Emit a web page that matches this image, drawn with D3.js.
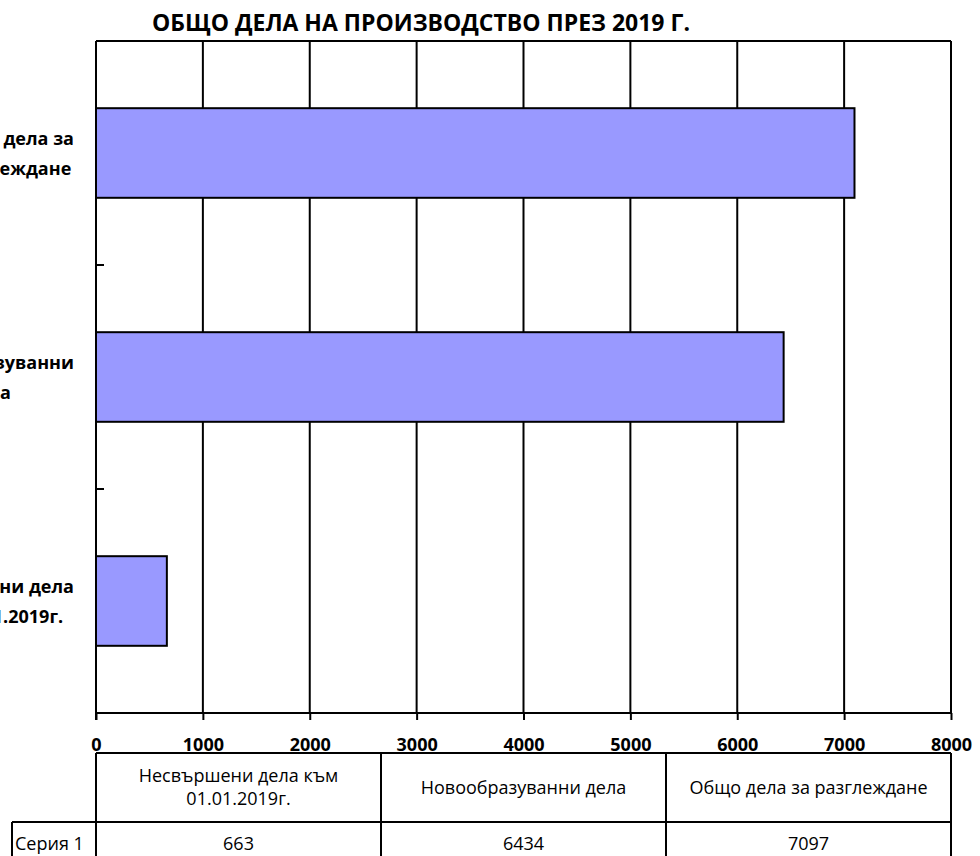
<!DOCTYPE html>
<html>
<head>
<meta charset="utf-8">
<script src="https://cdn.jsdelivr.net/npm/d3@7"></script>
<style>
  html, body { margin: 0; padding: 0; background: #fff; }
  svg { display: block; }
</style>
</head>
<body>
<script>
// ---- data ----
const categories = ["Несвършени дела към 01.01.2019г.", "Новообразуванни дела", "Общо дела за разглеждане"];
const categoryLines = [["Несвършени дела", "към 01.01.2019г."], ["Новообразуванни", "дела"], ["Общо дела за", "разглеждане"]];
const headerLines = [["Несвършени дела към", "01.01.2019г."], ["Новообразуванни дела"], ["Общо дела за разглеждане"]];
const seriesName = "Серия 1";
const values = [663, 6434, 7097];
const xTicks = [0, 1000, 2000, 3000, 4000, 5000, 6000, 7000, 8000];
const chartTitle = "ОБЩО ДЕЛА НА ПРОИЗВОДСТВО ПРЕЗ 2019 Г.";

// ---- layout ----
const W = 980, H = 856;
const pL = 96, pR = 951, pT = 41, pB = 713;
const font = "'Open Sans', 'Noto Sans', sans-serif";

const svg = d3.select("body").append("svg").attr("width", W).attr("height", H);

const x = d3.scaleLinear().domain([0, 8000]).range([pL, pR]);
const y = d3.scaleBand().domain(categories.slice().reverse()).range([pT, pB])
  .paddingInner(0.6).paddingOuter(0.3);

// title
svg.append("text").attr("x", 421).attr("y", 31)
  .attr("text-anchor", "middle")
  .style("font-family", font).style("font-weight", "bold").style("font-size", "23px")
  .text(chartTitle);

// vertical gridlines
svg.append("g").selectAll("line").data(xTicks.slice(1)).join("line")
  .attr("x1", d => x(d)).attr("x2", d => x(d))
  .attr("y1", pT).attr("y2", pB)
  .attr("stroke", "#000").attr("stroke-width", 2);

// top border
svg.append("line").attr("x1", pL).attr("x2", pR).attr("y1", pT).attr("y2", pT)
  .attr("stroke", "#000").attr("stroke-width", 2);

// bars
svg.append("g").selectAll("rect").data(categories).join("rect")
  .attr("x", x(0))
  .attr("y", d => y(d))
  .attr("width", (d, i) => x(values[i]) - x(0))
  .attr("height", y.bandwidth())
  .attr("fill", "#9999FF")
  .attr("stroke", "#000").attr("stroke-width", 2);

// x axis
const xAxis = d3.axisBottom(x).tickValues(xTicks).tickSize(7).tickFormat(d3.format("d"));
const gx = svg.append("g").attr("transform", `translate(0,${pB})`).call(xAxis);
gx.select(".domain").attr("stroke", "#000").attr("stroke-width", 2)
  .attr("d", `M${pL},0H${pR}`);
gx.selectAll(".tick line").attr("stroke", "#000").attr("stroke-width", 2);
gx.selectAll(".tick text").attr("y", 38).attr("dy", 0)
  .style("font-family", font).style("font-weight", "bold").style("font-size", "18px")
  .attr("fill", "#000");

// y axis spine + inner ticks at band boundaries
svg.append("line").attr("x1", pL).attr("x2", pL).attr("y1", pT).attr("y2", pB + 7)
  .attr("stroke", "#000").attr("stroke-width", 2);
const gap = (y.step() - y.bandwidth()) / 2;
svg.append("g").selectAll("line").data(categories).join("line")
  .attr("x1", pL).attr("x2", pL + 8)
  .attr("y1", d => y(d) - gap).attr("y2", d => y(d) - gap)
  .attr("stroke", "#000").attr("stroke-width", 2);

// category labels
const labG = svg.append("g")
  .style("font-family", font).style("font-weight", "bold").style("font-size", "18px");
categories.forEach((c, i) => {
  const cy = y(c) + y.bandwidth() / 2;
  const g = labG.append("g");
  const lines = categoryLines[i];
  const ts = g.selectAll("text").data(lines).join("text")
    .attr("text-anchor", "middle")
    .attr("y", (d, j) => cy + (j - (lines.length - 1) / 2) * 30 + 6.5)
    .text(d => d);
  let maxW = 0;
  ts.each(function () { maxW = Math.max(maxW, this.getComputedTextLength()); });
  ts.attr("x", 74 - maxW / 2);
});

// data table
const tTop = 753, tMid = 822, tBot = 880, serLeft = 12;
const colW = (pR - pL) / 3;
const tg = svg.append("g").attr("stroke", "#000").attr("stroke-width", 2);
tg.append("line").attr("x1", pL).attr("x2", pR).attr("y1", tTop).attr("y2", tTop);
tg.append("line").attr("x1", serLeft).attr("x2", pR).attr("y1", tMid).attr("y2", tMid);
tg.append("line").attr("x1", serLeft).attr("x2", pR).attr("y1", tBot).attr("y2", tBot);
tg.append("line").attr("x1", serLeft).attr("x2", serLeft).attr("y1", tMid).attr("y2", tBot);
[0, 1, 2, 3].forEach(k => {
  const xx = k === 0 ? pL : (k === 3 ? pR : Math.round(pL + k * colW));
  tg.append("line").attr("x1", xx).attr("x2", xx).attr("y1", tTop).attr("y2", tBot);
});

const txt = svg.append("g")
  .style("font-family", font).style("font-size", "18px").attr("fill", "#000");
headerLines.forEach((lines, i) => {
  const cx = pL + (i + 0.5) * colW;
  const cy = (tTop + tMid) / 2;
  lines.forEach((l, j) => {
    txt.append("text").attr("x", cx).attr("text-anchor", "middle")
      .attr("y", cy + (j - (lines.length - 1) / 2) * 23 + 6)
      .text(l);
  });
});
values.forEach((v, i) => {
  txt.append("text").attr("x", pL + (i + 0.5) * colW).attr("text-anchor", "middle")
    .attr("y", 850).text(v);
});
txt.append("text").attr("x", serLeft + 3).attr("y", 850).text(seriesName);
</script>
</body>
</html>
